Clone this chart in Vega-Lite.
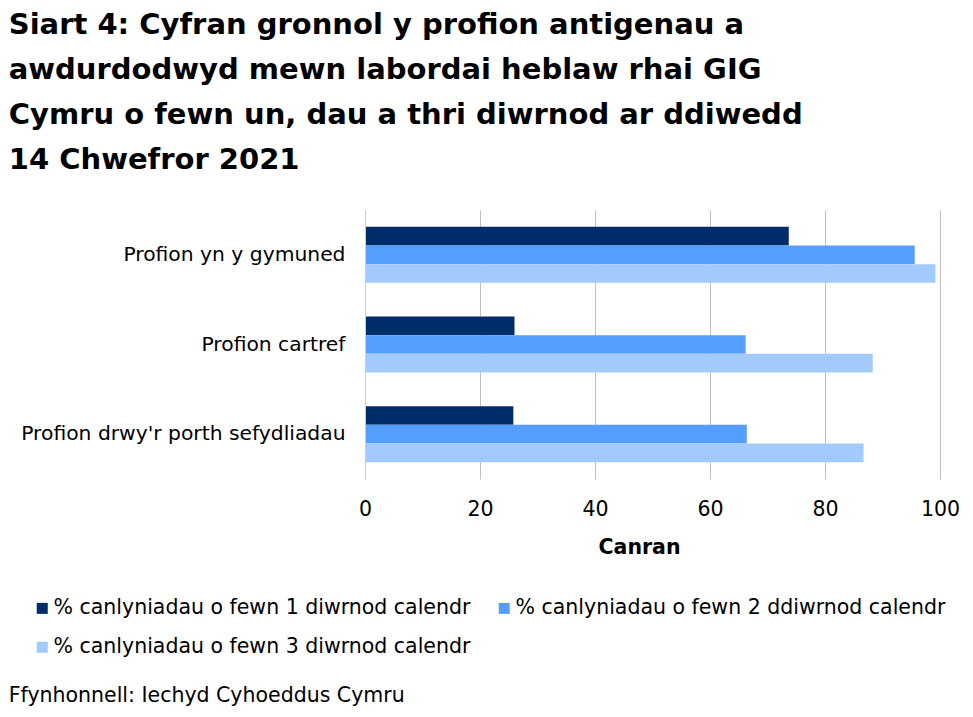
{
  "$schema": "https://vega.github.io/schema/vega-lite/v6.json",
  "padding": {"left": 8, "top": 11, "right": 10, "bottom": 10},
  "background": "white",
  "title": {
    "text": ["Siart 4: Cyfran gronnol y profion antigenau a", "awdurdodwyd mewn labordai heblaw rhai GIG", "Cymru o fewn un, dau a thri diwrnod ar ddiwedd", "14 Chwefror 2021"],
    "anchor": "start",
    "frame": "bounds",
    "font": "DejaVu Sans",
    "fontSize": 29,
    "fontWeight": "bold",
    "lineHeight": 45,
    "color": "#000000",
    "offset": 35
  },
  "vconcat": [
    {
      "title": {
        "text": "Ffynhonnell: Iechyd Cyhoeddus Cymru",
        "orient": "bottom",
        "anchor": "start",
        "frame": "bounds",
        "font": "DejaVu Sans",
        "fontSize": 20.5,
        "fontWeight": "normal",
        "color": "#000000",
        "offset": 128,
        "dx": -12
      },
      "width": 575,
      "height": 269,
      "data": {
        "values": [
          {"math": "Profion yn y gymuned", "series": "% canlyniadau o fewn 1 diwrnod calendr", "value": 73.7},
          {"math": "Profion yn y gymuned", "series": "% canlyniadau o fewn 2 ddiwrnod calendr", "value": 95.6},
          {"math": "Profion yn y gymuned", "series": "% canlyniadau o fewn 3 diwrnod calendr", "value": 99.2},
          {"math": "Profion cartref", "series": "% canlyniadau o fewn 1 diwrnod calendr", "value": 26.0},
          {"math": "Profion cartref", "series": "% canlyniadau o fewn 2 ddiwrnod calendr", "value": 66.2},
          {"math": "Profion cartref", "series": "% canlyniadau o fewn 3 diwrnod calendr", "value": 88.3},
          {"math": "Profion drwy'r porth sefydliadau", "series": "% canlyniadau o fewn 1 diwrnod calendr", "value": 25.8},
          {"math": "Profion drwy'r porth sefydliadau", "series": "% canlyniadau o fewn 2 ddiwrnod calendr", "value": 66.4},
          {"math": "Profion drwy'r porth sefydliadau", "series": "% canlyniadau o fewn 3 diwrnod calendr", "value": 86.7}
        ]
      },
      "mark": {"type": "bar"},
      "encoding": {
        "y": {
          "field": "math",
          "type": "nominal",
          "sort": null,
          "scale": {"paddingInner": 0.375, "paddingOuter": 0.1875},
          "axis": {
            "title": null,
            "ticks": false,
            "tickSize": 0,
            "labelPadding": 20,
            "labelFont": "DejaVu Sans",
            "labelFontSize": 20.3,
            "labelColor": "#000000",
            "domain": true,
            "domainColor": "#b3d1fb",
            "domainWidth": 1,
            "zindex": 1,
            "labelLimit": 400
          }
        },
        "yOffset": {
          "field": "series",
          "type": "nominal",
          "sort": null,
          "scale": {"paddingInner": 0, "paddingOuter": 0}
        },
        "x": {
          "field": "value",
          "type": "quantitative",
          "scale": {"domain": [0, 100], "nice": false},
          "axis": {
            "title": "Canran",
            "titleX": 274,
            "values": [0, 20, 40, 60, 80, 100],
            "domain": false,
            "ticks": false,
            "tickSize": 0,
            "grid": true,
            "gridColor": "#c0c0c0",
            "gridWidth": 1,
            "labelFlush": false,
            "labelPadding": 20,
            "labelFont": "DejaVu Sans",
            "labelFontSize": 20.5,
            "labelColor": "#000000",
            "titleFont": "DejaVu Sans",
            "titleFontSize": 20.5,
            "titleFontWeight": "bold",
            "titleColor": "#000000",
            "titlePadding": 18
          }
        },
        "color": {
          "field": "series",
          "type": "nominal",
          "sort": null,
          "scale": {"range": ["#002d6a", "#559eff", "#a3cafd"]},
          "legend": {
            "title": null,
            "orient": "none",
            "legendX": -333,
            "legendY": 388,
            "direction": "horizontal",
            "columns": 2,
            "symbolType": "square",
            "symbolSize": 121,
            "symbolStrokeWidth": 0,
            "labelFont": "DejaVu Sans",
            "labelFontSize": 20.5,
            "labelColor": "#000000",
            "labelOffset": 1,
            "labelLimit": 500,
            "rowPadding": 18,
            "columnPadding": 23,
            "padding": 0
          }
        }
      }
    }
  ],
  "config": {
    "view": {"stroke": null},
    "font": "DejaVu Sans"
  }
}
